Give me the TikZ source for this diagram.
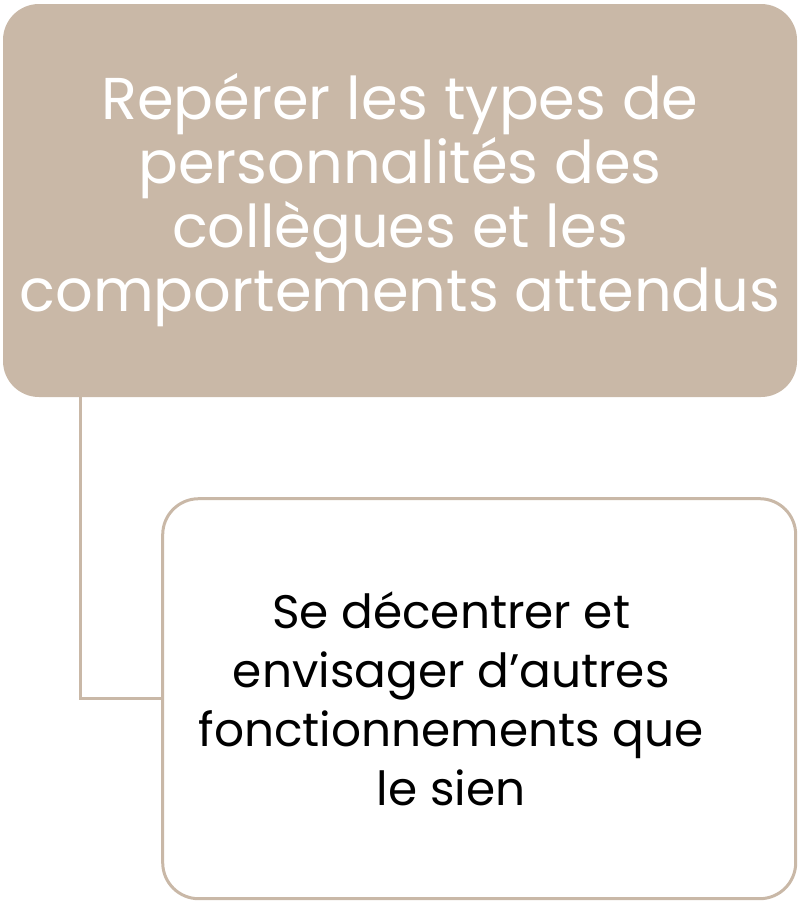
\documentclass[tikz,border=0pt]{standalone}
\usepackage{fontspec}
\setmainfont{Poppins}
\usepackage{xcolor}
\usetikzlibrary{positioning}
\definecolor{sable}{HTML}{C9B8A7}

\begin{document}
\begin{tikzpicture}[x=1pt,y=-1pt]
        \tikzstyle{bloc} = [rectangle, rounded corners=36pt, inner sep=0pt]
        \tikzstyle{lien} = [draw=sable, line width=3pt]
        \useasboundingbox (0,0) rectangle (800,908);
        \node[bloc, fill=sable, minimum width=794pt, minimum height=393pt] (haut) at (400,200.5) {};
        \node[align=center, text=white, font=\fontsize{59}{64}\selectfont] (titre) at (haut.center)
            {Repérer les types de\\personnalités des\\collègues et les\\comportements attendus};
        \node[bloc, draw=sable, line width=3pt, fill=white, minimum width=633pt, minimum height=400pt,
              below left = 100pt and 0pt of haut.south east] (bas) {};
        \node[align=center, font=\fontsize{47}{59}\selectfont, xshift=-28pt] (detail) at (bas.center)
            {Se décentrer et\\envisager d’autres\\fonctionnements que\\le sien};

        \draw[lien] ([xshift=78pt]haut.south west) |- (bas.west);
\end{tikzpicture}
\end{document}
